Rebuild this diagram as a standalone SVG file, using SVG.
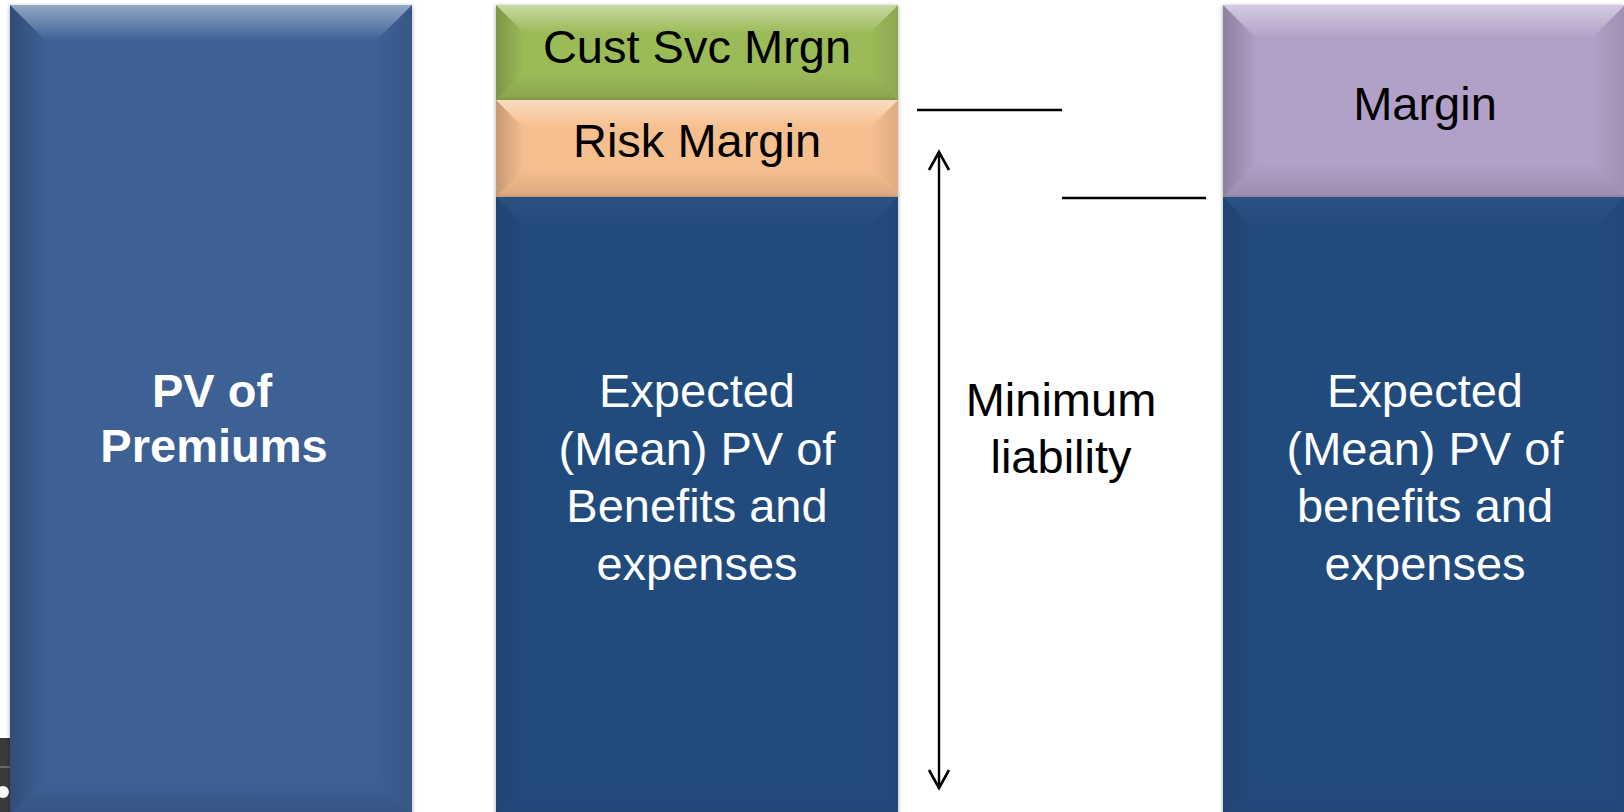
<svg xmlns="http://www.w3.org/2000/svg" width="1624" height="812" viewBox="0 0 1624 812">
  <defs>
    <!-- bevel shading: light top edge, darker sides and bottom -->
    <linearGradient id="gTop" x1="0" y1="0" x2="0" y2="1">
      <stop offset="0" stop-color="#ffffff" stop-opacity="0.45"/>
      <stop offset="1" stop-color="#ffffff" stop-opacity="0"/>
    </linearGradient>
    <linearGradient id="gLeft" x1="0" y1="0" x2="1" y2="0">
      <stop offset="0" stop-color="#000000" stop-opacity="0.2"/>
      <stop offset="1" stop-color="#000000" stop-opacity="0"/>
    </linearGradient>
    <linearGradient id="gRight" x1="1" y1="0" x2="0" y2="0">
      <stop offset="0" stop-color="#000000" stop-opacity="0.1"/>
      <stop offset="1" stop-color="#000000" stop-opacity="0"/>
    </linearGradient>
    <linearGradient id="gBottom" x1="0" y1="1" x2="0" y2="0">
      <stop offset="0" stop-color="#000000" stop-opacity="0.12"/>
      <stop offset="1" stop-color="#000000" stop-opacity="0"/>
    </linearGradient>
    <filter id="shadow" x="-5%" y="-5%" width="110%" height="110%">
      <feDropShadow dx="0" dy="1" stdDeviation="2" flood-color="#000000" flood-opacity="0.35"/>
    </filter>
    <!-- open V arrowhead, tip at the line end -->
    <marker id="openHead" viewBox="0 0 24 24" refX="21" refY="12" markerWidth="24" markerHeight="24" markerUnits="userSpaceOnUse" orient="auto-start-reverse">
      <path d="M3,2 L21,12 L3,22" fill="none" stroke="#000000" stroke-width="2.6"/>
    </marker>
  </defs>
  <style>
    .box { filter: url(#shadow); }
    .top { fill: url(#gTop); }
    .lft { fill: url(#gLeft); }
    .rgt { fill: url(#gRight); }
    .bot { fill: url(#gBottom); }
    .dim { opacity: 0.45; }
    .wt { font-family: "Liberation Sans", Arial, sans-serif; font-size: 47px; fill: #ffffff; text-anchor: middle; }
    .wb { font-family: "Liberation Sans", Arial, sans-serif; font-size: 47px; font-weight: bold; fill: #ffffff; text-anchor: middle; }
    .bk { font-family: "Liberation Sans", Arial, sans-serif; font-size: 47px; fill: #000000; text-anchor: middle; }
    .conn { stroke: #000000; stroke-width: 2.4; fill: none; }
  </style>

  <rect width="1624" height="812" fill="#ffffff"/>

  <!-- dark strip at the lower left edge -->
  <g id="edge-strip">
    <rect x="0" y="738" width="10" height="74" fill="#3a3a3a"/>
    <rect x="0" y="766" width="10" height="2" fill="#6a6a6a"/>
    <circle cx="3" cy="792" r="6" fill="#ffffff"/>
  </g>

  <!-- PV of Premiums -->
  <g id="premiums">
    <rect class="box" x="10" y="5" width="402" height="810" fill="#3c6195"/>
    <polygon class="top" points="10,5 412,5 376,41 46,41"/>
    <polygon class="lft" points="10,5 46,41 46,779 10,815"/>
    <polygon class="rgt" points="412,5 412,815 376,779 376,41"/>
    <polygon class="bot" points="10,815 412,815 376,779 46,779"/>
    <text class="wb" x="212" y="407">PV of</text>
    <text class="wb" x="214" y="462">Premiums</text>
  </g>

  <!-- Cust Svc Mrgn -->
  <g id="cust-svc-mrgn">
    <rect class="box" x="496" y="5" width="402" height="95" fill="#9bbb59"/>
    <polygon class="top" points="496,5 898,5 870,33 524,33"/>
    <polygon class="lft" points="496,5 524,33 524,72 496,100"/>
    <polygon class="rgt" points="898,5 898,100 870,72 870,33"/>
    <polygon class="bot" points="496,100 898,100 870,72 524,72"/>
    <text class="bk" x="697" y="63">Cust Svc Mrgn</text>
  </g>

  <!-- Risk Margin -->
  <g id="risk-margin">
    <rect class="box" x="496" y="100" width="402" height="97" fill="#f6bf8f"/>
    <polygon class="top" points="496,100 898,100 870,128 524,128"/>
    <polygon class="lft" points="496,100 524,128 524,169 496,197"/>
    <polygon class="rgt" points="898,100 898,197 870,169 870,128"/>
    <polygon class="bot" points="496,197 898,197 870,169 524,169"/>
    <text class="bk" x="697" y="157">Risk Margin</text>
  </g>

  <!-- Expected PV, middle column -->
  <g id="expected-mid">
    <rect class="box" x="496" y="197" width="402" height="618" fill="#244b7d"/>
    <polygon class="top" points="496,197 898,197 862,233 532,233" opacity="0.07"/>
    <polygon class="lft dim" points="496,197 532,233 532,779 496,815"/>
    <polygon class="rgt dim" points="898,197 898,815 862,779 862,233"/>
    <polygon class="bot dim" points="496,815 898,815 862,779 532,779"/>
    <text class="wt" x="697" y="407">Expected</text>
    <text class="wt" x="697" y="464.5">(Mean) PV of</text>
    <text class="wt" x="697" y="522">Benefits and</text>
    <text class="wt" x="697" y="579.5">expenses</text>
  </g>

  <!-- Margin -->
  <g id="margin">
    <rect class="box" x="1223" y="5" width="402" height="192" fill="#b1a0c7"/>
    <polygon class="top" points="1223,5 1625,5 1591,39 1257,39"/>
    <polygon class="lft" points="1223,5 1257,39 1257,163 1223,197"/>
    <polygon class="rgt" points="1625,5 1625,197 1591,163 1591,39"/>
    <polygon class="bot" points="1223,197 1625,197 1591,163 1257,163"/>
    <text class="bk" x="1425" y="120">Margin</text>
  </g>

  <!-- Expected PV, right column -->
  <g id="expected-right">
    <rect class="box" x="1223" y="197" width="402" height="618" fill="#244b7d"/>
    <polygon class="top" points="1223,197 1625,197 1589,233 1259,233" opacity="0.07"/>
    <polygon class="lft dim" points="1223,197 1259,233 1259,779 1223,815"/>
    <polygon class="rgt dim" points="1625,197 1625,815 1589,779 1589,233"/>
    <polygon class="bot dim" points="1223,815 1625,815 1589,779 1259,779"/>
    <text class="wt" x="1425" y="407">Expected</text>
    <text class="wt" x="1425" y="464.5">(Mean) PV of</text>
    <text class="wt" x="1425" y="522">benefits and</text>
    <text class="wt" x="1425" y="579.5">expenses</text>
  </g>

  <!-- Minimum liability label -->
  <g id="minimum-liability">
    <text class="bk" x="1061" y="416">Minimum</text>
    <text class="bk" x="1061" y="473">liability</text>
  </g>

  <!-- connectors: level lines and the two-headed span arrow -->
  <g id="connectors">
    <line class="conn" x1="917" y1="110" x2="1062" y2="110"/>
    <line class="conn" x1="1062" y1="198" x2="1206" y2="198"/>
    <line class="conn" x1="939" y1="152" x2="939" y2="788" marker-start="url(#openHead)" marker-end="url(#openHead)"/>
  </g>
</svg>
